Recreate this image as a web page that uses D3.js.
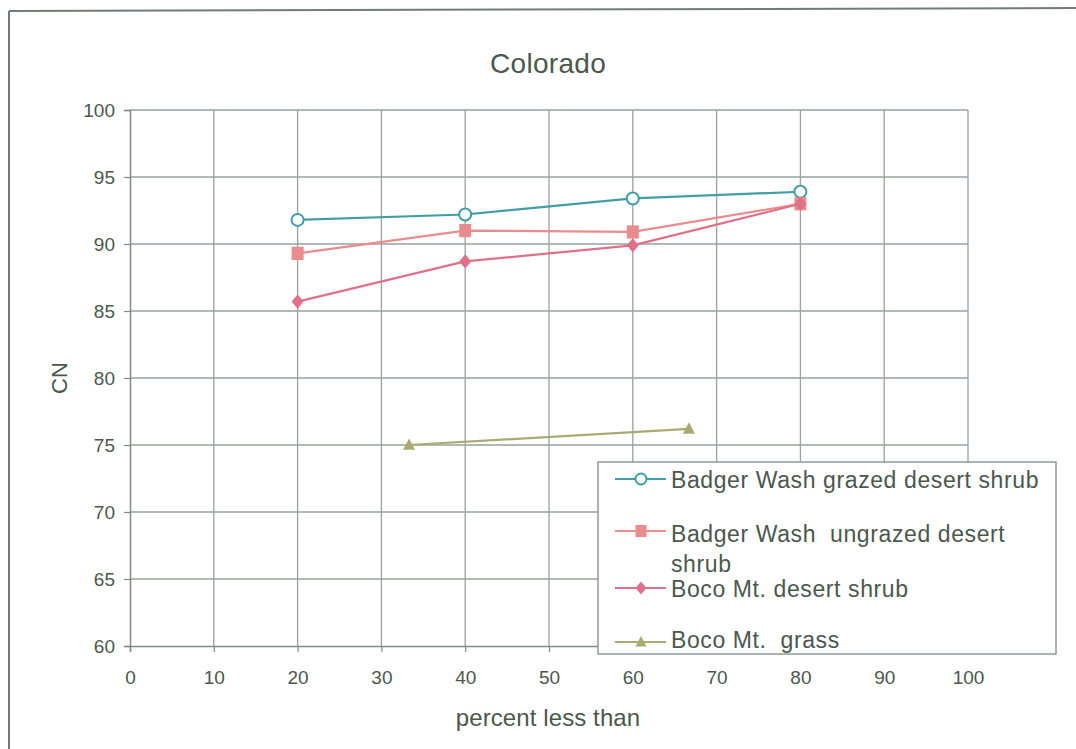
<!DOCTYPE html>
<html>
<head>
<meta charset="utf-8">
<script src="https://cdn.jsdelivr.net/npm/d3@7"></script>
<style>
  html, body { margin: 0; padding: 0; background: #fff; }
  svg text { font-family: "Liberation Sans", Arial, sans-serif; fill: #4a584d; }
</style>
</head>
<body>
<svg id="chart" width="1076" height="749"></svg>
<script>
// Curve number (CN) against "percent less than", Colorado sites
const xTicks = [0, 10, 20, 30, 40, 50, 60, 70, 80, 90, 100];
const yTicks = [60, 65, 70, 75, 80, 85, 90, 95, 100];

const shrubX = [20, 40, 60, 80];
const grazedShrub = [91.8, 92.2, 93.4, 93.9];
const ungrazedShrub = [89.3, 91.0, 90.9, 93.0];
const bocoShrub = [85.7, 88.7, 89.9, 93.0];

const grassX = [33.3, 66.7];
const bocoGrass = [75.0, 76.2];

const seriesNames = [
  "Badger Wash grazed desert shrub",
  "Badger Wash  ungrazed desert shrub",
  "Boco Mt. desert shrub",
  "Boco Mt.  grass"
];

const series = [
  { name: seriesNames[0], xs: shrubX, ys: grazedShrub, color: "#3f9ea6", marker: "circle" },
  { name: seriesNames[1], xs: shrubX, ys: ungrazedShrub, color: "#e98c8e", marker: "square" },
  { name: seriesNames[2], xs: shrubX, ys: bocoShrub, color: "#e0708a", marker: "diamond" },
  { name: seriesNames[3], xs: grassX, ys: bocoGrass, color: "#a9ab72", marker: "triangle" }
];

const svg = d3.select("#chart");
const gridColor = "#97a399";

const x = d3.scaleLinear().domain([0, 100]).range([130, 968]);
const y = d3.scaleLinear().domain([60, 100]).range([646, 110]);

// outer frame (left and top edges)
svg.append("line").attr("x1", 9).attr("y1", 11).attr("x2", 9).attr("y2", 749)
  .attr("stroke", "#6f7d72").attr("stroke-width", 2);
svg.append("line").attr("x1", 9).attr("y1", 11).attr("x2", 1076).attr("y2", 8)
  .attr("stroke", "#6f7d72").attr("stroke-width", 2);

// title
svg.append("text").attr("x", 548).attr("y", 73).attr("text-anchor", "middle")
  .style("font-size", "28px").style("letter-spacing", "0.3px").text("Colorado");

// grid
const grid = svg.append("g");
grid.selectAll(".vg").data(xTicks.slice(1)).join("line")
  .attr("x1", d => x(d)).attr("x2", d => x(d))
  .attr("y1", y(100)).attr("y2", y(60))
  .attr("stroke", gridColor).attr("stroke-width", 1.3);
grid.selectAll(".hg").data(yTicks.slice(1)).join("line")
  .attr("x1", x(0)).attr("x2", x(100))
  .attr("y1", d => y(d)).attr("y2", d => y(d))
  .attr("stroke", gridColor).attr("stroke-width", 1.3);

// axes
const xAxis = svg.append("g").attr("transform", `translate(0,${y(60)})`)
  .call(d3.axisBottom(x).tickValues(xTicks).tickSize(6).tickPadding(19));
const yAxis = svg.append("g").attr("transform", `translate(${x(0)},0)`)
  .call(d3.axisLeft(y).tickValues(yTicks).tickSize(6).tickPadding(9));
[xAxis, yAxis].forEach(a => {
  a.select(".domain").attr("stroke", "#7f8c82").attr("stroke-width", 1.5);
  a.selectAll(".tick line").attr("stroke", "#7f8c82").attr("stroke-width", 1.2);
  a.selectAll(".tick text").style("font-size", "19px").style("fill", "#4a584d")
    .style("font-family", "'Liberation Sans', Arial, sans-serif");
});
yAxis.selectAll(".tick text").attr("dy", "0.36em");
xAxis.selectAll(".tick text").attr("dy", "0.71em");

// axis titles
svg.append("text").attr("x", 548).attr("y", 726).attr("text-anchor", "middle")
  .style("font-size", "24px").style("letter-spacing", "0.1px").text("percent less than");
svg.append("text").attr("transform", `translate(67,${(y(60) + y(100)) / 2}) rotate(-90)`)
  .attr("text-anchor", "middle").style("font-size", "22px").text("CN");

// marker drawing
function drawMarker(g, type, color, cx, cy, s) {
  const h = s / 2;
  if (type === "circle") {
    g.append("circle").attr("cx", cx).attr("cy", cy).attr("r", h)
      .attr("fill", "#fff").attr("stroke", color).attr("stroke-width", 2);
  } else if (type === "square") {
    g.append("rect").attr("x", cx - h).attr("y", cy - h * 1.1)
      .attr("width", s).attr("height", s * 1.1).attr("fill", color);
  } else if (type === "diamond") {
    g.append("path")
      .attr("d", `M${cx},${cy - h * 1.2}L${cx + h},${cy}L${cx},${cy + h * 1.2}L${cx - h},${cy}Z`)
      .attr("fill", color);
  } else {
    g.append("path")
      .attr("d", `M${cx},${cy - h * 1.1}L${cx + h},${cy + h * 0.8}L${cx - h},${cy + h * 0.8}Z`)
      .attr("fill", color);
  }
}

// series lines and markers
const line = d3.line().x(d => x(d[0])).y(d => y(d[1]));
series.forEach(s => {
  const pts = s.xs.map((v, i) => [v, s.ys[i]]);
  const g = svg.append("g");
  g.append("path").attr("d", line(pts)).attr("fill", "none")
    .attr("stroke", s.color).attr("stroke-width", 2.2);
  pts.forEach(p => drawMarker(g, s.marker, s.color, x(p[0]), y(p[1]), 12));
});

// legend
const legend = svg.append("g");
legend.append("rect").attr("x", 598).attr("y", 462).attr("width", 458).attr("height", 192)
  .attr("fill", "#fff").attr("stroke", "#8f9c92").attr("stroke-width", 1.5);

const legendRows = [
  { lineY: 479, lines: [[488, seriesNames[0]]] },
  { lineY: 531, lines: [[542, "Badger Wash  ungrazed desert"], [572, "shrub"]] },
  { lineY: 588, lines: [[597, seriesNames[2]]] },
  { lineY: 642, lines: [[648, seriesNames[3]]] }
];
legendRows.forEach((row, i) => {
  const s = series[i];
  legend.append("line").attr("x1", 615).attr("x2", 666)
    .attr("y1", row.lineY).attr("y2", row.lineY)
    .attr("stroke", s.color).attr("stroke-width", 2);
  drawMarker(legend, s.marker, s.color, 641, row.lineY, 11);
  row.lines.forEach(([ty, txt]) => {
    legend.append("text").attr("x", 671).attr("y", ty)
      .style("font-size", "23px").style("letter-spacing", "0.6px")
      .style("white-space", "pre").attr("xml:space", "preserve").text(txt);
  });
});
</script>
</body>
</html>
